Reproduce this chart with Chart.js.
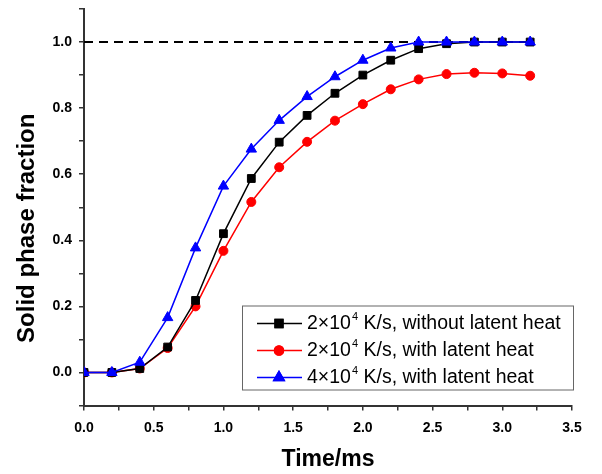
<!DOCTYPE html>
<html>
<head>
<meta charset="utf-8">
<script src="https://cdn.jsdelivr.net/npm/chart.js@4.4.0/dist/chart.umd.min.js"></script>
<style>
  html, body { margin: 0; padding: 0; background: #fff; }
  #wrap { width: 602px; height: 474px; }
</style>
</head>
<body>
<div id="wrap"><canvas id="myChart" width="602" height="474"></canvas></div>
<script>
let timeMs = [0, 0.2, 0.4, 0.6, 0.8, 1.0, 1.2, 1.4, 1.6, 1.8, 2.0, 2.2, 2.4, 2.6, 2.8, 3.0, 3.2];
let noLatent2e4 = [0, 0, 0.012, 0.077, 0.218, 0.42, 0.587, 0.697, 0.778, 0.845, 0.9, 0.945, 0.98, 0.995, 1.0, 1.0, 1.0];
let latent2e4 = [0, 0, 0.012, 0.074, 0.2, 0.368, 0.516, 0.621, 0.698, 0.762, 0.812, 0.857, 0.887, 0.903, 0.907, 0.905, 0.898];
let latent4e4 = [0, 0, 0.031, 0.166, 0.377, 0.564, 0.676, 0.763, 0.835, 0.895, 0.945, 0.982, 1.0, 1.0, 1.0, 1.0, 1.0];
let fullSolidTime = [0, 3.2];
let fullSolid = [1, 1];

let yTickLabels = ['0.0', '0.2', '0.4', '0.6', '0.8', '1.0'];
let xTickLabels = ['0.0', '0.5', '1.0', '1.5', '2.0', '2.5', '3.0', '3.5'];
let yTitle = 'Solid phase fraction';
let xTitle = 'Time/ms';
let legendBase = ['2×10', '2×10', '4×10'];
let legendExp = ['4', '4', '4'];
let legendRest = [' K/s, without latent heat', ' K/s, with latent heat', ' K/s, with latent heat'];

const fontFamily = '"Liberation Sans", Arial, sans-serif';

function toPoints(xs, ys) {
  return xs.map((x, i) => ({ x: x, y: ys[i] }));
}

function fmt(value) {
  if (Math.abs(value) < 1e-9) value = 0;
  return value.toFixed(1);
}

// legend box inside the plot + the rotated y title
const extras = {
  id: 'extras',
  afterDraw(chart) {
    const ctx = chart.ctx;
    const area = chart.chartArea;

    ctx.save();
    ctx.fillStyle = '#000';
    ctx.font = 'bold 24px ' + fontFamily;
    ctx.textAlign = 'center';
    ctx.textBaseline = 'middle';
    ctx.translate(27, (area.top + area.bottom) / 2 + 21);
    ctx.rotate(-Math.PI / 2);
    ctx.fillText(yTitle, 0, 0);
    ctx.restore();

    const right = area.right + 1;
    const left = right - 331;
    const bottom = area.bottom - 16;
    const top = bottom - 84;
    ctx.save();
    ctx.fillStyle = '#fff';
    ctx.fillRect(left, top, right - left, bottom - top);
    ctx.strokeStyle = '#666';
    ctx.lineWidth = 1;
    ctx.strokeRect(left + 0.5, top + 0.5, right - left, bottom - top);

    let rows = chart.data.datasets.filter(d => d.legendIndex !== undefined);
    rows.sort((a, b) => a.legendIndex - b.legendIndex);
    rows.forEach((ds, i) => {
      const y = top + 18 + i * 27;
      ctx.strokeStyle = ds.borderColor;
      ctx.lineWidth = 1.5;
      ctx.beginPath();
      ctx.moveTo(left + 15, y);
      ctx.lineTo(left + 60, y);
      ctx.stroke();
      ctx.fillStyle = ds.borderColor;
      Chart.helpers.drawPoint(ctx, {
        pointStyle: ds.pointStyle,
        radius: ds.pointRadius,
        borderWidth: 1
      }, left + 37, y);
      ctx.fill();
      ctx.stroke();

      ctx.fillStyle = '#000';
      ctx.textAlign = 'left';
      ctx.textBaseline = 'middle';
      ctx.font = '19.5px ' + fontFamily;
      let x = left + 65;
      ctx.fillText(legendBase[i], x, y);
      x += ctx.measureText(legendBase[i]).width + 1;
      ctx.font = '11px ' + fontFamily;
      ctx.fillText(legendExp[i], x, y - 6.5);
      x += ctx.measureText(legendExp[i]).width;
      ctx.font = '19.5px ' + fontFamily;
      ctx.fillText(legendRest[i], x, y);
    });
    ctx.restore();
  }
};

const tickFont = { family: fontFamily, size: 14, weight: 'bold' };
const titleFont = { family: fontFamily, size: 23, weight: 'bold' };

new Chart(document.getElementById('myChart'), {
  type: 'line',
  data: {
    datasets: [
      {
        data: toPoints(timeMs, noLatent2e4),
        borderColor: '#000000',
        backgroundColor: '#000000',
        borderWidth: 1.5,
        pointStyle: 'rect',
        pointRadius: 5.5,
        pointBorderWidth: 1,
        legendIndex: 0,
        order: 1
      },
      {
        data: toPoints(timeMs, latent2e4),
        borderColor: '#ff0000',
        backgroundColor: '#ff0000',
        borderWidth: 1.5,
        pointStyle: 'circle',
        pointRadius: 4.5,
        pointBorderWidth: 1,
        legendIndex: 1,
        order: 2
      },
      {
        data: toPoints(timeMs, latent4e4),
        borderColor: '#0000ff',
        backgroundColor: '#0000ff',
        borderWidth: 1.5,
        pointStyle: 'triangle',
        pointRadius: 6,
        pointBorderWidth: 1,
        legendIndex: 2,
        order: 0
      },
      {
        data: toPoints(fullSolidTime, fullSolid),
        borderColor: '#000000',
        borderWidth: 2,
        borderDash: [9, 6],
        pointRadius: 0,
        order: 3
      }
    ]
  },
  options: {
    responsive: false,
    animation: false,
    devicePixelRatio: 1,
    layout: { padding: { top: 9, right: 30, left: 0, bottom: 0 } },
    plugins: {
      legend: { display: false },
      tooltip: { enabled: false }
    },
    scales: {
      x: {
        type: 'linear',
        min: 0,
        max: 3.5,
        ticks: {
          stepSize: 0.25,
          autoSkip: false,
          maxRotation: 0,
          padding: 9,
          color: '#000',
          font: tickFont,
          callback: function (value) {
            let label = fmt(value);
            return xTickLabels.includes(label) && Math.abs(value * 2 - Math.round(value * 2)) < 1e-6 ? label : '';
          }
        },
        grid: { drawOnChartArea: false, drawTicks: true, tickLength: 5, color: '#333', lineWidth: 1.5 },
        border: { display: true, color: '#333', width: 2 },
        title: { display: true, text: xTitle, color: '#000', font: titleFont, padding: { top: 0, bottom: 1 } },
        afterFit: function (scale) {
          scale.height = 68.5;
          scale.paddingLeft = 0;
          scale.paddingRight = 0;
        }
      },
      y: {
        min: -0.1,
        max: 1.1,
        ticks: {
          stepSize: 0.1,
          autoSkip: false,
          padding: 7,
          color: '#000',
          font: tickFont,
          callback: function (value) {
            let label = fmt(value);
            return yTickLabels.includes(label) && Math.round(value * 10) % 2 === 0 ? label : '';
          }
        },
        grid: { drawOnChartArea: false, drawTicks: true, tickLength: 5, color: '#333', lineWidth: 1.5 },
        border: { display: true, color: '#333', width: 2 },
        afterFit: function (scale) {
          scale.width = 84;
          scale.paddingTop = 0;
          scale.paddingBottom = 0;
        }
      }
    }
  },
  plugins: [extras]
});
</script>
</body>
</html>
